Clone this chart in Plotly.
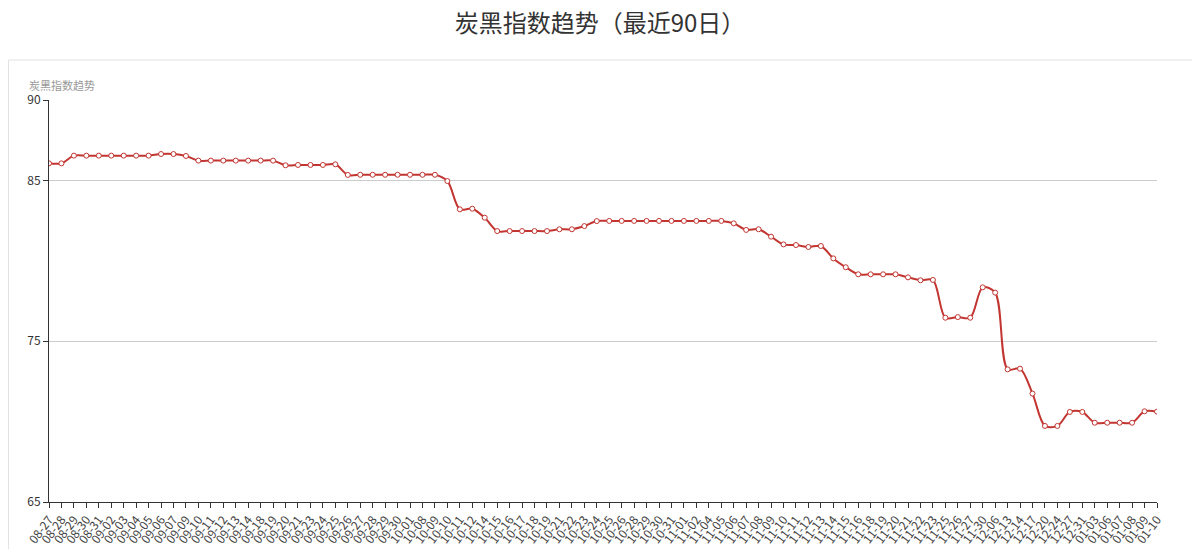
import plotly.graph_objects as go

dates = ["08-27","08-28","08-29","08-30","08-31","09-02","09-03","09-04","09-05","09-06",
         "09-07","09-09","09-10","09-11","09-12","09-13","09-14","09-18","09-19","09-20",
         "09-21","09-23","09-24","09-25","09-26","09-27","09-28","09-29","09-30","10-01",
         "10-08","10-09","10-10","10-11","10-12","10-14","10-15","10-16","10-17","10-18",
         "10-19","10-21","10-22","10-23","10-24","10-25","10-26","10-28","10-29","10-30",
         "10-31","11-01","11-02","11-04","11-05","11-06","11-07","11-08","11-09","11-10",
         "11-11","11-12","11-13","11-14","11-15","11-16","11-18","11-19","11-20","11-21",
         "11-22","11-23","11-25","11-26","11-27","11-30","12-06","12-13","12-14","12-17",
         "12-20","12-24","12-27","12-31","01-03","01-06","01-07","01-08","01-09","01-10"]

values = [86.06, 86.06, 86.54, 86.54, 86.54, 86.54, 86.54, 86.54, 86.54, 86.64,
          86.64, 86.52, 86.23, 86.23, 86.23, 86.23, 86.23, 86.23, 86.23, 85.94,
          85.96, 85.96, 85.96, 86.0, 85.34, 85.35, 85.35, 85.35, 85.35, 85.35,
          85.35, 85.35, 84.96, 83.20, 83.24, 82.68, 81.85, 81.85, 81.85, 81.85,
          81.85, 81.96, 81.96, 82.16, 82.47, 82.48, 82.48, 82.48, 82.48, 82.48,
          82.48, 82.48, 82.48, 82.48, 82.48, 82.33, 81.92, 81.96, 81.50, 81.02,
          80.98, 80.86, 80.92, 80.15, 79.60, 79.16, 79.16, 79.16, 79.16, 78.97,
          78.79, 78.81, 76.46, 76.50, 76.46, 78.35, 78.02, 73.25, 73.29, 71.74,
          69.73, 69.73, 70.60, 70.60, 69.93, 69.93, 69.93, 69.93, 70.64, 70.62]

y_ticks = [65, 75, 85, 90]

title_text = "炭黑指数趋势（最近90日）"
axis_name = "炭黑指数趋势"

font_family = "Noto Sans CJK SC, Noto Sans, sans-serif"

# page body has an 8px default margin: work in page pixels, shift by OFF
OFF = 8
W, H = 1200 - OFF, 549 - OFF
L_PAGE, R_PAGE, T_PAGE, B_PAGE = 49, 1157, 100, 502
l = L_PAGE - OFF
r = 1200 - R_PAGE
t = T_PAGE - OFF
b = H - (B_PAGE - OFF)
pw, ph = W - l - r, H - t - b

def px_x(p):
    return (p - OFF - l) / pw

def px_y(p):
    return (B_PAGE - p) / ph

fig = go.Figure()
fig.add_trace(go.Scatter(
    x=dates, y=values, mode="lines+markers",
    line=dict(color="#c23531", width=2, shape="spline", smoothing=0.9),
    marker=dict(symbol="circle", size=5, color="#ffffff",
                line=dict(color="#c23531", width=1)),
    hoverinfo="x+y",
))

fig.add_shape(type="rect", xref="paper", yref="paper",
              x0=px_x(8.5), x1=px_x(1195), y0=px_y(600), y1=px_y(60),
              line=dict(color="#e2e2e2", width=1), fillcolor="rgba(0,0,0,0)",
              layer="below")

fig.update_layout(
    width=W, height=H,
    margin=dict(l=l, r=r, t=t, b=b, pad=0),
    paper_bgcolor="#ffffff", plot_bgcolor="#ffffff",
    font=dict(family=font_family, color="#333333", size=12),
    showlegend=False,
    title=dict(text=title_text, x=(600 - OFF) / W, xref="container", xanchor="center",
               y=1 - (24 - OFF) / H, yref="container", yanchor="middle",
               font=dict(size=24, color="#333333", family=font_family)),
    xaxis=dict(
        type="category", range=[0, len(dates) - 1],
        tickmode="array", tickvals=dates, ticktext=dates,
        tickangle=-53, tickfont=dict(size=12, color="#444444"),
        showline=True, linecolor="#333333", linewidth=1,
        ticks="outside", ticklen=5, tickcolor="#333333",
        showgrid=False, zeroline=False, automargin=False,
    ),
    yaxis=dict(
        range=[65, 90], tickvals=y_ticks, ticktext=[str(v) for v in y_ticks],
        tickfont=dict(size=12, color="#333333"),
        showline=True, linecolor="#333333", linewidth=1,
        ticks="outside", ticklen=5, tickcolor="#333333",
        showgrid=True, gridcolor="#cccccc", gridwidth=1,
        zeroline=False, automargin=False,
    ),
    annotations=[dict(
        text=axis_name, xref="paper", yref="paper",
        x=px_x(27), y=px_y(85), xanchor="left", yanchor="middle",
        showarrow=False, font=dict(size=11, color="#999999", family=font_family),
    )],
)

fig.write_html("out.html")
